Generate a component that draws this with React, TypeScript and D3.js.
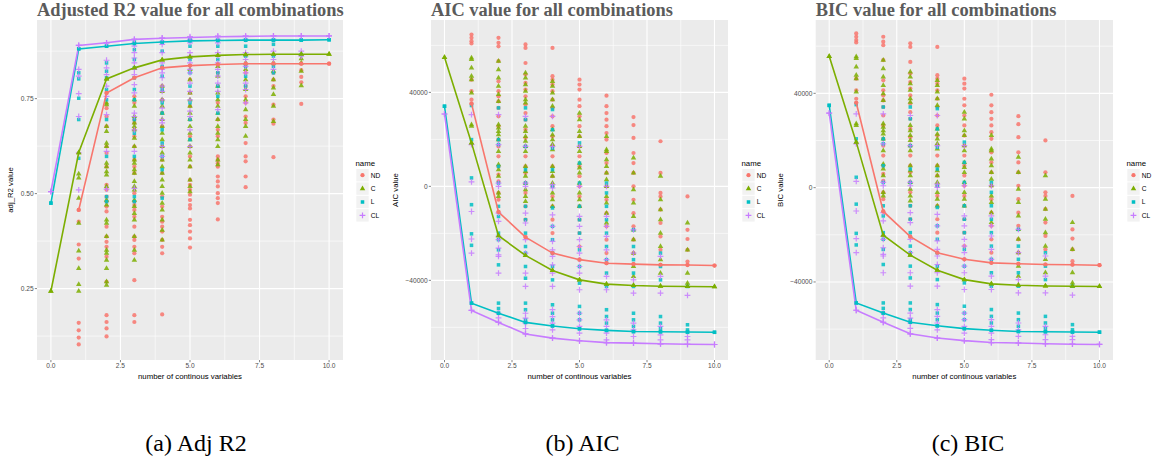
import React from 'react';
import * as d3 from 'd3';

// ---------- shared ----------
const seriesNames = ['ND', 'C', 'L', 'CL'];
const seriesColors = ['#F8766D', '#7CAE00', '#00BFC4', '#C77CFF'];
const seriesShapes = ['circle', 'triangle', 'square', 'plus'];
const xValues = [0, 1, 2, 3, 4, 5, 6, 7, 8, 9, 10];
const xTicks = [0, 2.5, 5, 7.5, 10];
const xTickLabels = ['0.0', '2.5', '5.0', '7.5', '10.0'];
const xMinorTicks = [1.25, 3.75, 6.25, 8.75];

// ---------- Adjusted R2 ----------
const r2Ticks = [0.25, 0.5, 0.75];
const r2TickLabels = ['0.25', '0.50', '0.75'];
const r2Minor = [0.125, 0.375, 0.625, 0.875];

const r2LineND = [null, 0.457, 0.765, 0.805, 0.831, 0.837, 0.840, 0.842, 0.842, 0.842, 0.842];
const r2LineC = [0.243, 0.608, 0.802, 0.831, 0.852, 0.860, 0.864, 0.866, 0.867, 0.867, 0.867];
const r2LineL = [0.475, 0.881, 0.888, 0.895, 0.899, 0.902, 0.903, 0.904, 0.904, 0.904, 0.905];
const r2LineCL = [0.505, 0.890, 0.897, 0.906, 0.909, 0.911, 0.913, 0.914, 0.915, 0.915, 0.915];

const r2PtsND = [
  [],
  [0.457, 0.426, 0.366, 0.329, 0.160, 0.140, 0.121, 0.103],
  [0.765, 0.725, 0.703, 0.677, 0.624, 0.607, 0.571, 0.523, 0.510, 0.492, 0.479, 0.466, 0.453, 0.413, 0.387, 0.373, 0.360, 0.334, 0.268, 0.180, 0.162, 0.145, 0.124],
  [0.805, 0.756, 0.739, 0.695, 0.686, 0.668, 0.651, 0.624, 0.589, 0.571, 0.554, 0.501, 0.479, 0.470, 0.457, 0.439, 0.413, 0.387, 0.378, 0.360, 0.343, 0.272, 0.180, 0.162],
  [0.831, 0.783, 0.747, 0.712, 0.677, 0.624, 0.589, 0.554, 0.492, 0.466, 0.439, 0.426, 0.413, 0.400, 0.378, 0.360, 0.343, 0.182],
  [0.837, 0.800, 0.765, 0.730, 0.695, 0.651, 0.624, 0.598, 0.571, 0.536, 0.523, 0.510, 0.497, 0.483, 0.470, 0.461, 0.431, 0.417, 0.400, 0.382, 0.358],
  [0.840, 0.818, 0.783, 0.739, 0.695, 0.668, 0.651, 0.598, 0.589, 0.580, 0.571, 0.545, 0.532, 0.519, 0.501, 0.488, 0.475, 0.432],
  [0.842, 0.818, 0.783, 0.756, 0.739, 0.703, 0.686, 0.633, 0.598, 0.585, 0.545, 0.517],
  [0.842, 0.818, 0.800, 0.783, 0.734, 0.695, 0.684, 0.596],
  [0.842, 0.825, 0.807, 0.793, 0.736],
  [0.842],
];
const r2PtsC = [
  [0.243],
  [0.608, 0.552, 0.541, 0.488, 0.422, 0.349, 0.303, 0.261, 0.243],
  [0.802, 0.739, 0.734, 0.677, 0.664, 0.633, 0.624, 0.580, 0.571, 0.558, 0.549, 0.519, 0.483, 0.470, 0.431, 0.422, 0.387, 0.351, 0.343, 0.325, 0.303, 0.268, 0.259],
  [0.831, 0.747, 0.730, 0.703, 0.686, 0.677, 0.668, 0.646, 0.624, 0.589, 0.580, 0.563, 0.554, 0.532, 0.519, 0.510, 0.483, 0.466, 0.448, 0.431, 0.387, 0.351, 0.325],
  [0.852, 0.783, 0.769, 0.747, 0.730, 0.712, 0.695, 0.677, 0.659, 0.642, 0.624, 0.607, 0.589, 0.571, 0.554, 0.536, 0.519, 0.501, 0.475, 0.457, 0.431, 0.404, 0.378],
  [0.860, 0.827, 0.800, 0.765, 0.747, 0.730, 0.712, 0.695, 0.677, 0.659, 0.642, 0.624, 0.607, 0.589, 0.571, 0.536, 0.519, 0.505],
  [0.864, 0.835, 0.809, 0.783, 0.765, 0.747, 0.730, 0.712, 0.695, 0.677, 0.659, 0.642, 0.624, 0.589, 0.576],
  [0.866, 0.844, 0.827, 0.800, 0.774, 0.747, 0.721, 0.695, 0.677, 0.651],
  [0.867, 0.844, 0.822, 0.800, 0.778, 0.761, 0.730, 0.690],
  [0.867, 0.855, 0.844, 0.822, 0.784],
  [0.867],
];
const r2PtsL = [
  [0.475],
  [0.881, 0.818, 0.802, 0.751, 0.695, 0.593],
  [0.888, 0.844, 0.822, 0.805, 0.774, 0.747, 0.695, 0.598, 0.492, 0.479],
  [0.899, 0.879, 0.853, 0.831, 0.805, 0.774, 0.747, 0.695, 0.659, 0.598, 0.492, 0.479],
  [0.897, 0.875, 0.835, 0.809, 0.774, 0.739, 0.712, 0.668, 0.633, 0.598, 0.563, 0.488],
  [0.906, 0.888, 0.853, 0.818, 0.783, 0.739, 0.695, 0.642],
  [0.904, 0.888, 0.853, 0.818, 0.783, 0.756, 0.712],
  [0.904, 0.888, 0.862, 0.835, 0.809, 0.783],
  [0.904, 0.893, 0.862, 0.835, 0.818],
  [0.904, 0.866],
  [0.905],
];
const r2PtsCL = [
  [0.505],
  [0.890, 0.827, 0.809, 0.763, 0.703, 0.607, 0.510],
  [0.897, 0.851, 0.831, 0.813, 0.783, 0.756, 0.708, 0.611, 0.512],
  [0.906, 0.897, 0.888, 0.871, 0.857, 0.844, 0.827, 0.813, 0.787, 0.765, 0.712, 0.703, 0.668, 0.611, 0.514],
  [0.910, 0.901, 0.893, 0.871, 0.844, 0.827, 0.818, 0.805, 0.783, 0.769, 0.747, 0.725, 0.695, 0.686, 0.624, 0.598],
  [0.913, 0.906, 0.897, 0.871, 0.862, 0.844, 0.827, 0.818, 0.791, 0.769, 0.747, 0.717, 0.703, 0.668, 0.624],
  [0.915, 0.906, 0.897, 0.871, 0.862, 0.844, 0.827, 0.809, 0.791, 0.769, 0.721],
  [0.915, 0.906, 0.871, 0.853, 0.835, 0.818, 0.791, 0.774, 0.739],
  [0.915, 0.906, 0.875, 0.853, 0.827],
  [0.915, 0.875, 0.862],
  [0.915],
];

// ---------- AIC / BIC axes ----------
const icTicks = [-40000, 0, 40000];
const icTickLabels = ['\u221240000', '0', '40000'];
const icMinor = [-60000, -20000, 20000, 60000];

// ---------- AIC ----------
const aicLineND = [null, 35200, -10900, -21600, -28400, -31200, -32700, -33100, -33400, -33500, -33700];
const aicLineC = [54900, 18500, -21000, -29400, -35800, -39800, -41600, -42200, -42500, -42600, -42700];
const aicLineL = [34100, -49700, -54000, -57900, -59400, -60600, -61300, -61800, -61900, -62000, -62100];
const aicLineCL = [30800, -52800, -57900, -62800, -64600, -65700, -66500, -66700, -67000, -67200, -67300];

const aicPtsND = [
  [],
  [64600, 63200, 61800, 60800, 45400, 40500, 36900, 35200],
  [63200, 61100, 59600, 53300, 44700, 40500, 38300, 36200, 33400, 29800, 25600, 19900, 17000, 12800, 8500, 5000, 2100, -2800, -5700, -10900],
  [60400, 58900, 52500, 47600, 44000, 41200, 38300, 34800, 31200, 28400, 24100, 20600, 17000, 12800, 8500, 5700, 1400, -2800, -8500, -14200, -21600],
  [58900, 46900, 45400, 43300, 40500, 36900, 33400, 29800, 25600, 21300, 17000, 12800, 8500, 4300, 0, -4300, -8500, -14200, -19900, -28400],
  [45400, 43300, 41200, 36900, 34100, 29800, 25600, 21300, 17000, 12800, 8500, 4300, 0, -4300, -8500, -14200, -19900, -25600, -31200],
  [38600, 34100, 31200, 28400, 25600, 22700, 19900, 14200, 9900, 5700, 0, -5700, -11400, -17000, -22700, -28400, -32700],
  [29500, 26100, 20600, 14200, 9900, 5700, 0, -5700, -11400, -17000, -22700, -28400, -33100],
  [19200, 5700, -2800, -4300, -9900, -15600, -21300, -27000, -33400],
  [-4300, -18500, -22400, -27000, -32000, -33400],
  [-33700],
];
const aicPtsC = [
  [54900],
  [54700, 54000, 50400, 46900, 45400, 39800, 26300, 25600, 18500],
  [53300, 49700, 46200, 42600, 39100, 36200, 26300, 24900, 23400, 22000, 19900, 14900, 9200, 7100, 4300, -2800, -4300, -21000],
  [48300, 46200, 43300, 40500, 36900, 35500, 25600, 23400, 21300, 19200, 17000, 14900, 8500, 6400, 4300, 1400, -1400, -4300, -6400, -29400],
  [44700, 42600, 39800, 36900, 34100, 24100, 21900, 19900, 17800, 15600, 8500, 6400, 4300, 1400, -2800, -5700, -8500, -35800],
  [31200, 28400, 23400, 21300, 17000, 14900, 9900, 7800, 5700, 1400, -2800, -5700, -8500, -39800],
  [21300, 15600, 14900, 11400, 8500, 5700, 2800, 0, -4300, -7100, -11400, -15600, -41600],
  [12100, 5700, -1400, -7100, -12800, -18500, -22700, -28400, -34100, -38300, -42200],
  [4300, -5700, -9900, -14200, -19900, -25600, -31200, -36900, -42500],
  [-15600, -27000, -36900, -41200, -42600],
  [-42700],
];
const aicPtsL = [
  [34100],
  [34400, 19900, 3600, -7800, -20200, -25100, -49700],
  [33400, 19900, 17800, 8500, 1400, -8500, -12800, -19900, -22700, -27000, -33400, -49700, -52000, -54000],
  [33400, 28400, 17000, 7100, 1400, -8500, -14200, -19900, -25600, -28400, -34100, -39100, -49700, -52500, -56800, -57900],
  [32700, 24100, 16300, 7100, 0, -9200, -17000, -22700, -28400, -34100, -39800, -50400, -54000, -56800, -59400],
  [18500, 9900, 1400, -8500, -14200, -19900, -27000, -34100, -41200, -51100, -54000, -56800, -60600],
  [1400, -2800, -8500, -14200, -19900, -25600, -31200, -36900, -42600, -52500, -55400, -58200, -61300],
  [-18500, -25600, -31200, -36900, -42600, -54000, -56800, -59600, -61800],
  [-28400, -34100, -39800, -55400, -58200, -60400, -61900],
  [-42600, -58900, -61100, -62100],
  [-62100],
];
const aicPtsCL = [
  [30800],
  [30500, 17800, 1900, -10700, -22400, -28400, -52800],
  [30500, 17800, 1400, 0, -11400, -14900, -21300, -22700, -26300, -29100, -29800, -36900, -54000, -56000, -57900],
  [29800, 17000, 1400, 0, -11400, -15600, -22700, -28400, -36900, -42600, -54000, -56100, -58200, -60500, -62800],
  [29800, 17000, 700, -700, -12100, -17000, -23400, -27000, -29800, -33400, -36900, -42600, -52500, -55400, -58200, -61100, -64600],
  [17000, 0, -12800, -17000, -22700, -25600, -28400, -31200, -34100, -36900, -44000, -54000, -56800, -59600, -62500, -65700],
  [0, -12800, -17000, -21300, -27000, -31200, -38300, -44000, -56800, -59600, -62500, -65300, -66500],
  [-18500, -28400, -39800, -45400, -58200, -61100, -63900, -66700],
  [-29800, -38300, -45400, -59600, -63200, -65300, -67000],
  [-46400, -63900, -65300, -67200],
  [-67300],
];

// ---------- BIC ----------
const bicLineND = [null, 36000, -10100, -20800, -27600, -30400, -31900, -32300, -32600, -32700, -32900];
const bicLineC = [55700, 19300, -20200, -28600, -35000, -39000, -40800, -41400, -41700, -41800, -41900];
const bicLineL = [34900, -48900, -53200, -57100, -58600, -59800, -60500, -61000, -61100, -61200, -61300];
const bicLineCL = [31600, -52000, -57100, -62000, -63800, -64900, -65700, -65900, -66200, -66400, -66500];

const bicPtsND = [
  [],
  [65400, 64000, 62600, 61600, 46200, 41300, 37700, 36000],
  [64000, 61900, 60400, 54100, 45500, 41300, 39100, 37000, 34200, 30600, 26400, 20700, 17800, 13600, 9300, 5800, 2900, -2000, -4900, -10100],
  [61200, 59700, 53300, 48400, 44800, 42000, 39100, 35600, 32000, 29200, 24900, 21400, 17800, 13600, 9300, 6500, 2200, -2000, -7700, -13400, -20800],
  [59700, 47700, 46200, 44100, 41300, 37700, 34200, 30600, 26400, 22100, 17800, 13600, 9300, 5100, 800, -3500, -7700, -13400, -19100, -27600],
  [46200, 44100, 42000, 37700, 34900, 30600, 26400, 22100, 17800, 13600, 9300, 5100, 800, -3500, -7700, -13400, -19100, -24800, -30400],
  [39400, 34900, 32000, 29200, 26400, 23500, 20700, 15000, 10700, 6500, 800, -4900, -10600, -16200, -21900, -27600, -31900],
  [30300, 26900, 21400, 15000, 10700, 6500, 800, -4900, -10600, -16200, -21900, -27600, -32300],
  [20000, 6500, -2000, -3500, -9100, -14800, -20500, -26200, -32600],
  [-3500, -17700, -21600, -26200, -31200, -32600],
  [-32900],
];
const bicPtsC = [
  [55700],
  [55500, 54800, 51200, 47700, 46200, 40600, 27100, 26400, 19300],
  [54100, 50500, 47000, 43400, 39900, 37000, 27100, 25700, 24200, 22800, 20700, 15700, 10000, 7900, 5100, -2000, -3500, -20200],
  [49100, 47000, 44100, 41300, 37700, 36300, 26400, 24200, 22100, 20000, 17800, 15700, 9300, 7200, 5100, 2200, -600, -3500, -5600, -28600],
  [45500, 43400, 40600, 37700, 34900, 24900, 22700, 20700, 18600, 16400, 9300, 7200, 5100, 2200, -2000, -4900, -7700, -35000],
  [32000, 29200, 24200, 22100, 17800, 15700, 10700, 8600, 6500, 2200, -2000, -4900, -7700, -39000],
  [22100, 16400, 15700, 12200, 9300, 6500, 3600, 800, -3500, -6300, -10600, -14800, -40800],
  [12900, 6500, -600, -6300, -12000, -17700, -21900, -27600, -33300, -37500, -41400],
  [5100, -4900, -9100, -13400, -19100, -24800, -30400, -36100, -41700],
  [-14800, -26200, -36100, -40400, -41800],
  [-41900],
];
const bicPtsL = [
  [34900],
  [35200, 20700, 4400, -7000, -19400, -24300, -48900],
  [34200, 20700, 18600, 9300, 2200, -7700, -12000, -19100, -21900, -26200, -32600, -48900, -51200, -53200],
  [34200, 29200, 17800, 7900, 2200, -7700, -13400, -19100, -24800, -27600, -33300, -38300, -48900, -51700, -56000, -57100],
  [33500, 24900, 17100, 7900, 800, -8400, -16200, -21900, -27600, -33300, -39000, -49600, -53200, -56000, -58600],
  [19300, 10700, 2200, -7700, -13400, -19100, -26200, -33300, -40400, -50300, -53200, -56000, -59800],
  [2200, -2000, -7700, -13400, -19100, -24800, -30400, -36100, -41800, -51700, -54600, -57400, -60500],
  [-17700, -24800, -30400, -36100, -41800, -53200, -56000, -58800, -61000],
  [-27600, -33300, -39000, -54600, -57400, -59600, -61100],
  [-41800, -58100, -60300, -61300],
  [-61300],
];
const bicPtsCL = [
  [31600],
  [31300, 18600, 2700, -9900, -21600, -27600, -52000],
  [31300, 18600, 2200, 800, -10600, -14100, -20500, -21900, -25500, -28300, -29000, -36100, -53200, -55200, -57100],
  [30600, 17800, 2200, 800, -10600, -14800, -21900, -27600, -36100, -41800, -53200, -55300, -57400, -59700, -62000],
  [30600, 17800, 1500, 100, -11300, -16200, -22600, -26200, -29000, -32600, -36100, -41800, -51700, -54600, -57400, -60300, -63800],
  [17800, 800, -12000, -16200, -21900, -24800, -27600, -30400, -33300, -36100, -43200, -53200, -56000, -58800, -61700, -64900],
  [800, -12000, -16200, -20500, -26200, -30400, -37500, -43200, -56000, -58800, -61700, -64500, -65700],
  [-17700, -27600, -39000, -44600, -57400, -60300, -63100, -65900],
  [-29000, -37500, -44600, -58800, -62400, -64500, -66200],
  [-45600, -63100, -64500, -66400],
  [-66500],
];

const captions = ['(a) Adj R2', '(b) AIC', '(c) BIC'];

// ---------- components ----------
const SANS = '"Liberation Sans", Arial, sans-serif';
const SERIF = '"Liberation Serif", "Times New Roman", serif';

const symCircle = d3.symbol().type(d3.symbolCircle).size(14)() as string;
const symTriangle = d3.symbol().type(d3.symbolTriangle).size(13)() as string;
const symSquare = d3.symbol().type(d3.symbolSquare).size(12.5)() as string;

function Marker({ shape, x, y, color, opacity = 0.85 }: any) {
  if (shape === 'plus') {
    const a = 2.9;
    return (
      <path
        d={`M${x - a},${y}H${x + a}M${x},${y - a}V${y + a}`}
        stroke={color}
        strokeWidth={1.2}
        opacity={opacity}
        fill="none"
      />
    );
  }
  const d = shape === 'circle' ? symCircle : shape === 'triangle' ? symTriangle : symSquare;
  return <path d={d} transform={`translate(${x},${y})`} fill={color} opacity={opacity} />;
}

interface PanelProps {
  left: number;
  right: number;
  top: number;
  bottom: number;
  yDomain: [number, number];
  title: string;
  yTitle: string;
  yTitleX: number;
  yTicks: number[];
  yTickLabels: string[];
  yMinor: number[];
  lines: (number | null)[][];
  pts: number[][][];
  legendX: number;
}

function Panel(p: PanelProps) {
  const x = d3.scaleLinear().domain([-0.5, 10.5]).range([p.left, p.right]);
  const y = d3.scaleLinear().domain(p.yDomain).range([p.bottom, p.top]);
  const lineGen = d3
    .line<[number, number | null]>()
    .defined((d) => d[1] !== null)
    .x((d) => x(d[0]))
    .y((d) => y(d[1] as number));
  const midY = (p.top + p.bottom) / 2;
  const midX = (p.left + p.right) / 2;
  return (
    <g>
      <text x={p.left} y={15.5} fontFamily={SERIF} fontWeight="bold" fontSize={18.4} fill="#5b5b5b">
        {p.title}
      </text>
      <rect x={p.left} y={p.top} width={p.right - p.left} height={p.bottom - p.top} fill="#EBEBEB" />
      {p.yMinor.map((v, i) => (
        <line key={'ym' + i} x1={p.left} x2={p.right} y1={y(v)} y2={y(v)} stroke="#fff" strokeWidth={0.6} />
      ))}
      {xMinorTicks.map((v, i) => (
        <line key={'xm' + i} x1={x(v)} x2={x(v)} y1={p.top} y2={p.bottom} stroke="#fff" strokeWidth={0.6} />
      ))}
      {p.yTicks.map((v, i) => (
        <line key={'yM' + i} x1={p.left} x2={p.right} y1={y(v)} y2={y(v)} stroke="#fff" strokeWidth={1.1} />
      ))}
      {xTicks.map((v, i) => (
        <line key={'xM' + i} x1={x(v)} x2={x(v)} y1={p.top} y2={p.bottom} stroke="#fff" strokeWidth={1.1} />
      ))}
      {/* points */}
      {p.pts.map((series, si) =>
        series.map((col, xi) =>
          col.map((v, k) => (
            <Marker key={`p${si}-${xi}-${k}`} shape={seriesShapes[si]} x={x(xValues[xi])} y={y(v)} color={seriesColors[si]} />
          ))
        )
      )}
      {/* lines */}
      {p.lines.map((vals, si) => (
        <path
          key={'l' + si}
          d={lineGen(xValues.map((xv, i) => [xv, vals[i]] as [number, number | null])) || ''}
          fill="none"
          stroke={seriesColors[si]}
          strokeWidth={1.6}
        />
      ))}
      {/* vertex markers */}
      {p.lines.map((vals, si) =>
        vals.map((v, i) =>
          v === null ? null : (
            <Marker key={`v${si}-${i}`} shape={seriesShapes[si]} x={x(xValues[i])} y={y(v)} color={seriesColors[si]} opacity={1} />
          )
        )
      )}
      {/* axes */}
      {p.yTicks.map((v, i) => (
        <g key={'yt' + i}>
          <line x1={p.left - 2.2} x2={p.left} y1={y(v)} y2={y(v)} stroke="#333" strokeWidth={0.6} />
          <text x={p.left - 3.3} y={y(v) + 2.3} textAnchor="end" fontFamily={SANS} fontSize={6.6} fill="#4D4D4D">
            {p.yTickLabels[i]}
          </text>
        </g>
      ))}
      {xTicks.map((v, i) => (
        <g key={'xt' + i}>
          <line x1={x(v)} x2={x(v)} y1={p.bottom} y2={p.bottom + 2.2} stroke="#333" strokeWidth={0.6} />
          <text x={x(v)} y={p.bottom + 8.3} textAnchor="middle" fontFamily={SANS} fontSize={6.6} fill="#4D4D4D">
            {xTickLabels[i]}
          </text>
        </g>
      ))}
      <text x={midX} y={p.bottom + 19} textAnchor="middle" fontFamily={SANS} fontSize={7.8} fill="#000">
        number of continous variables
      </text>
      <text
        transform={`translate(${p.yTitleX},${midY}) rotate(-90)`}
        textAnchor="middle"
        fontFamily={SANS}
        fontSize={7.8}
        fill="#000"
      >
        {p.yTitle}
      </text>
      {/* legend */}
      <text x={p.legendX} y={165.8} fontFamily={SANS} fontSize={7.8} fill="#000">
        name
      </text>
      {seriesNames.map((n, i) => {
        const cy = 175.2 + i * 13.4;
        const cx = p.legendX + 7;
        return (
          <g key={'lg' + i}>
            <rect x={cx - 6.2} y={cy - 6.2} width={12.4} height={12.4} fill="#F2F2F2" />
            <Marker shape={seriesShapes[i]} x={cx} y={cy} color={seriesColors[i]} opacity={1} />
            <text x={cx + 8.3} y={cy + 2.3} fontFamily={SANS} fontSize={6.6} fill="#000">
              {n}
            </text>
          </g>
        );
      })}
    </g>
  );
}

const captionX = [196, 582.5, 968];

export default function App() {
  return (
    <svg
      width={1156}
      height={463}
      style={{ position: 'absolute', left: 0, top: 0, background: '#fff' }}
      xmlns="http://www.w3.org/2000/svg"
    >
      <rect x={0} y={0} width={1156} height={463} fill="#fff" />
      <Panel
        left={37}
        right={343}
        top={20}
        bottom={360}
        yDomain={[0.062, 0.957]}
        title="Adjusted R2 value for all combinations"
        yTitle="adj_R2 value"
        yTitleX={13}
        yTicks={r2Ticks}
        yTickLabels={r2TickLabels}
        yMinor={r2Minor}
        lines={[r2LineND, r2LineC, r2LineL, r2LineCL]}
        pts={[r2PtsND, r2PtsC, r2PtsL, r2PtsCL]}
        legendX={355.5}
      />
      <Panel
        left={431}
        right={728}
        top={20}
        bottom={360}
        yDomain={[-73900, 70800]}
        title="AIC value for all combinations"
        yTitle="AIC value"
        yTitleX={398}
        yTicks={icTicks}
        yTickLabels={icTickLabels}
        yMinor={icMinor}
        lines={[aicLineND, aicLineC, aicLineL, aicLineCL]}
        pts={[aicPtsND, aicPtsC, aicPtsL, aicPtsCL]}
        legendX={741.5}
      />
      <Panel
        left={815.7}
        right={1113}
        top={20}
        bottom={360}
        yDomain={[-73100, 71100]}
        title="BIC value for all combinations"
        yTitle="BIC value"
        yTitleX={783}
        yTicks={icTicks}
        yTickLabels={icTickLabels}
        yMinor={icMinor}
        lines={[bicLineND, bicLineC, bicLineL, bicLineCL]}
        pts={[bicPtsND, bicPtsC, bicPtsL, bicPtsCL]}
        legendX={1126.5}
      />
      {captions.map((c, i) => (
        <text
          key={c}
          x={captionX[i]}
          y={450.5}
          textAnchor="middle"
          fontFamily={SERIF}
          fontSize={24}
          fill="#000"
        >
          {c}
        </text>
      ))}
    </svg>
  );
}
